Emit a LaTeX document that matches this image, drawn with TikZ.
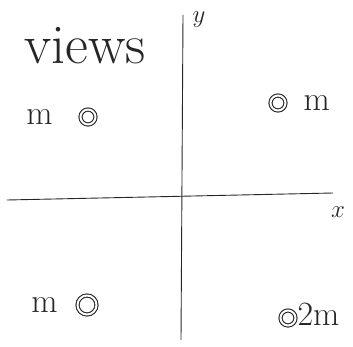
\documentclass[tikz,border=0pt]{standalone}
\usetikzlibrary{positioning}
\begin{document}
\begin{tikzpicture}[
  x=1pt, y=-1pt,
  line width=0.9pt, draw=black!85,
  mass/.style={draw, circle, double, double distance=2pt, line width=1.1pt, minimum size=15pt, inner sep=0pt},
  lbl/.style={font=\fontsize{34}{36}\selectfont, inner sep=1pt, text=black!85},
  axlbl/.style={font=\fontsize{28}{30}\selectfont, inner sep=1pt, text=black!85}
]
\useasboundingbox (0,0) rectangle (353,347);
% title
\node[font=\fontsize{56}{60}\selectfont, text=black!85] (title) at (85,46) {views};

% axes
\coordinate (xl) at (7,200);
\coordinate (xr) at (333,193);
\coordinate (yt) at (183,15);
\coordinate (yb) at (181,340);
\draw (xl) -- (xr);
\draw (yt) -- (yb);
\node[axlbl] (xlab) at (338,212) {$x$};
\node[axlbl] (ylab) at (199,20) {$y$};

% masses
\node[mass] (m1) at (88,117) {};
\node[lbl, left=26pt of m1] (m1lab) {m};
\node[mass] (m2) at (278,103) {};
\node[lbl, right=16pt of m2] (m2lab) {m};
\node[mass, minimum size=19pt] (m3) at (87,305) {};
\node[lbl, left=18pt of m3] (m3lab) {m};
\node[mass] (m4) at (288,318) {};
\node[lbl, right=0pt of m4, yshift=4pt] (m4lab) {2m};
\end{tikzpicture}
\end{document}
